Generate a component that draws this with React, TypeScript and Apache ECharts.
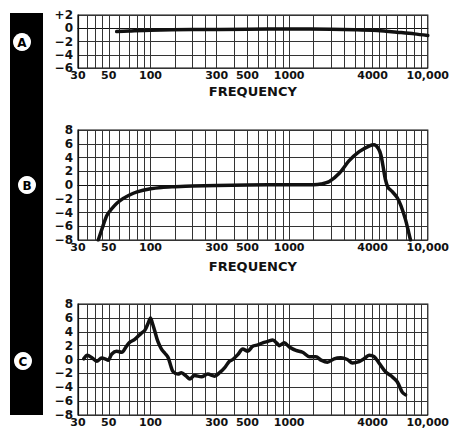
import React, { useEffect, useRef } from 'react';
import * as echarts from 'echarts';

// Tick labels on the frequency axis (Hz)
const X_LABELS = [30, 50, 100, 300, 500, 1000, 4000, 10000];
// Vertical ruling of the chart paper (Hz)
const X_GRID = [35, 40, 45, 50, 60, 70, 80, 90, 100, 150, 200, 250, 300, 400, 500, 600, 700, 800, 900, 1000, 1500, 2000, 2500, 3000, 3500, 4000, 4500, 5000, 6000, 7000, 8000, 9000];

// Panel A response
const A_FREQ = [57, 70, 100, 200, 500, 1000, 2000, 3000, 4000, 5000, 6000, 8000, 10000];
const A_DB = [-0.5, -0.42, -0.3, -0.2, -0.15, -0.12, -0.15, -0.22, -0.3, -0.45, -0.6, -0.85, -1.1];

// Panel B response
const B_FREQ = [42, 45, 48, 50, 55, 60, 70, 80, 100, 120, 150, 200, 300, 500, 1000, 1500, 1700, 1950, 2300, 2700, 3200, 3800, 4100, 4400, 4600, 4750, 4950, 5150, 5500, 6000, 6400, 6900, 7300, 7500];
const B_DB = [-8, -6.2, -4.6, -4.0, -3.0, -2.3, -1.5, -1.0, -0.55, -0.35, -0.25, -0.15, -0.08, 0, 0.05, 0.05, 0.15, 0.5, 1.7, 3.5, 4.85, 5.7, 5.85, 5.3, 4.3, 2.8, 0.8, -0.3, -0.9, -1.8, -3.0, -5.0, -7.0, -8];

// Panel C response
const C_FREQ = [33, 35, 37.6, 41, 44.4, 47, 49.5, 52.6, 57, 62, 67, 71, 77, 86, 91, 96, 100, 103, 107, 113, 120, 127, 134, 140, 145, 158, 167, 181, 192, 208, 233, 259, 290, 315, 342, 371, 392, 426, 463, 503, 546, 594, 645, 700, 761, 822, 850, 923, 1003, 1120, 1250, 1400, 1560, 1700, 1890, 2110, 2360, 2630, 2860, 3200, 3470, 3770, 4100, 4450, 4970, 5550, 6020, 6540, 6920];
const C_DB = [0.1, 0.6, 0.3, -0.25, 0.2, 0.1, -0.1, 0.8, 1.2, 1.05, 1.9, 2.5, 2.9, 3.8, 4.2, 5.2, 6.0, 5.3, 4.2, 2.6, 1.5, 0.9, 0.3, -0.9, -1.7, -2.1, -1.9, -2.4, -2.8, -2.3, -2.5, -2.1, -2.4, -1.9, -1.2, -0.25, 0, 0.7, 1.5, 1.2, 1.9, 2.1, 2.4, 2.6, 2.8, 2.3, 2.0, 2.4, 1.8, 1.3, 1.05, 0.4, 0.4, -0.1, -0.4, 0.1, 0.24, 0, -0.5, -0.3, 0.1, 0.6, 0.4, -0.5, -1.8, -2.5, -3.2, -4.7, -5.1];

const PANEL_LETTERS = ['A', 'B', 'C'];
const Y_RANGES = [[-6, 2], [-8, 8], [-8, 8]];
const X_NAMES = ['FREQUENCY', 'FREQUENCY', ''];

const FONT = 'DejaVu Sans';
const INK = '#111';

export default function App() {
  const ref = useRef<HTMLDivElement>(null);
  useEffect(() => {
    const chart = echarts.init(ref.current!, null, { renderer: 'svg' });
    const grids = [
      { left: 78, top: 15, width: 350, height: 53 },
      { left: 78, top: 130, width: 350, height: 110 },
      { left: 78, top: 304, width: 350, height: 111 },
    ];
    const nameGaps = [17, 20, 20];
    const series = [
      [A_FREQ, A_DB],
      [B_FREQ, B_DB],
      [C_FREQ, C_DB],
    ].map(([f, d], i) => ({
      type: 'line',
      xAxisIndex: i,
      yAxisIndex: i,
      data: f.map((v, k) => [v, d[k]]),
      showSymbol: false,
      smooth: 0.3,
      lineStyle: { color: INK, width: 3.5, cap: 'round', join: 'round' },
      z: 5,
      markLine: {
        silent: true,
        z: 1,
        symbol: ['none', 'none'],
        label: { show: false },
        lineStyle: { color: '#333', width: 1, type: 'solid' },
        emphasis: { disabled: true },
        data: X_GRID.map((g) => ({ xAxis: g })),
      },
    }));
    const circles = [
      { cx: 22, cy: 42 },
      { cx: 27, cy: 185 },
      { cx: 23, cy: 361 },
    ];
    const option: any = {
      animation: false,
      backgroundColor: '#fff',
      grid: grids.map((g) => ({ ...g, show: true, borderColor: INK, borderWidth: 1.2, backgroundColor: 'transparent' })),
      xAxis: grids.map((g, i) => ({
        type: 'log',
        logBase: 10,
        gridIndex: i,
        min: 30,
        max: 10000,
        name: X_NAMES[i],
        nameLocation: 'middle',
        nameGap: nameGaps[i],
        nameTextStyle: { fontFamily: FONT, fontWeight: 'bold', fontSize: 13, color: INK },
        axisLine: { show: true, lineStyle: { color: INK, width: 1.2 } },
        axisTick: { show: false },
        axisLabel: {
          customValues: X_LABELS,
          margin: 2,
          fontFamily: FONT,
          fontWeight: 'bold',
          fontSize: 11,
          color: INK,
          formatter: (v: number) => (Math.round(v) === 10000 ? '10,000' : String(Math.round(v))),
        },
        splitLine: { show: false },
        minorTick: { show: false },
        minorSplitLine: { show: false },
      })),
      yAxis: grids.map((g, i) => ({
        type: 'value',
        gridIndex: i,
        min: Y_RANGES[i][0],
        max: Y_RANGES[i][1],
        interval: 2,
        axisLine: { show: true, lineStyle: { color: INK, width: 1.2 } },
        axisTick: { show: false },
        splitLine: { show: true, lineStyle: { color: '#333', width: 1 } },
        axisLabel: {
          margin: 5,
          fontFamily: FONT,
          fontWeight: 'bold',
          fontSize: 12,
          color: INK,
          formatter: (v: number) => (v > 0 ? (i === 0 ? '+' + v : String(v)) : v < 0 ? '\u2212' + Math.abs(v) : '0'),
        },
      })),
      series,
      graphic: [
        { type: 'rect', left: 10, top: 13, shape: { width: 33, height: 402 }, style: { fill: '#000' }, z: 10 },
        ...circles.map((c) => ({
          type: 'circle',
          z: 20,
          shape: { cx: c.cx, cy: c.cy, r: 9 },
          style: { fill: '#fff' },
        })),
        ...circles.map((c, i) => ({
          type: 'text',
          z: 30,
          x: c.cx,
          y: c.cy + 0.5,
          style: { text: PANEL_LETTERS[i], fill: '#000', font: `bold 12px "${FONT}"`, align: 'center', verticalAlign: 'middle' },
        })),
      ],
    };
    chart.setOption(option);
    return () => chart.dispose();
  }, []);
  return <div ref={ref} style={{ position: 'absolute', left: 0, top: 0, width: 452, height: 431, background: '#fff' }} />;
}
